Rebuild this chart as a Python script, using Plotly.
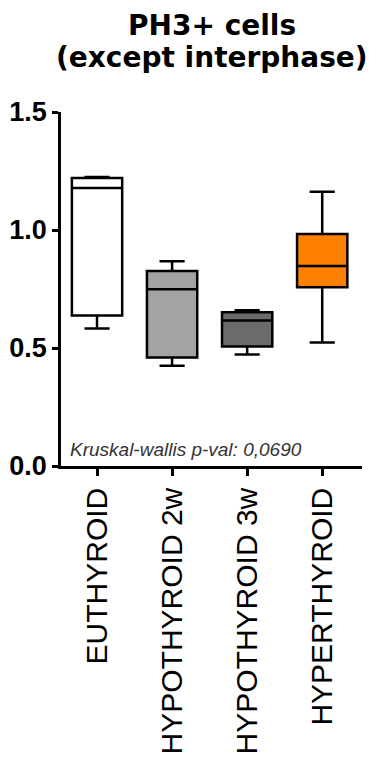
import plotly.graph_objects as go

# groups and box statistics
groups = ["EUTHYROID", "HYPOTHYROID 2w", "HYPOTHYROID 3w", "HYPERTHYROID"]
lower = [0.583, 0.425, 0.472, 0.523]
q1 = [0.638, 0.460, 0.506, 0.757]
median = [1.178, 0.749, 0.617, 0.847]
q3 = [1.220, 0.826, 0.651, 0.983]
upper = [1.225, 0.868, 0.660, 1.162]
colors = ["#ffffff", "#a3a3a6", "#6b6b6b", "#ff8000"]
title_lines = ["PH3+ cells", "(except interphase)"]

fig = go.Figure()

for i, g in enumerate(groups):
    fig.add_trace(go.Box(
        x=[g],
        q1=[q1[i]],
        median=[median[i]],
        q3=[q3[i]],
        lowerfence=[lower[i]],
        upperfence=[upper[i]],
        fillcolor=colors[i],
        line=dict(color="black", width=2.5),
        width=0.67,
        whiskerwidth=0.5,
        boxpoints=False,
        hoverinfo="skip",
        showlegend=False,
    ))

# two-line title, placed as annotations so nothing gets clipped
for txt, yy in zip(title_lines, [1.243, 1.155]):
    fig.add_annotation(
        text="<b>" + txt + "</b>",
        xref="paper", yref="paper",
        x=0.5, y=yy,
        xanchor="center", yanchor="middle",
        showarrow=False,
        font=dict(family="DejaVu Sans", size=28, color="black"),
    )

fig.add_annotation(
    text="<i>Kruskal-wallis p-val: 0,0690</i>",
    xref="paper", yref="y",
    x=0.023, y=0.072,
    xanchor="left", yanchor="middle",
    showarrow=False,
    font=dict(family="Liberation Sans", size=19, color="#333333"),
)

# page body adds an 8px offset, margins compensate for it
fig.update_layout(
    width=385, height=760,
    margin=dict(l=53, r=31, t=104, b=302),
    paper_bgcolor="white",
    plot_bgcolor="white",
    xaxis=dict(
        type="category",
        range=[-0.48, 3.53],
        automargin=False,
        showline=True, linecolor="black", linewidth=2.5,
        ticks="outside", ticklen=7, tickwidth=2.5, tickcolor="black",
        tickangle=-90,
        tickfont=dict(family="Liberation Sans", size=30, color="black"),
        showgrid=False, zeroline=False,
    ),
    yaxis=dict(
        range=[0, 1.5],
        automargin=False,
        dtick=0.5, tickformat=".1f",
        showline=True, linecolor="black", linewidth=2.5,
        ticks="outside", ticklen=6, tickwidth=2.5, tickcolor="black",
        tickfont=dict(family="Liberation Sans", size=27, color="black", weight="bold"),
        showgrid=False, zeroline=False,
    ),
)

fig.write_html("out.html")
